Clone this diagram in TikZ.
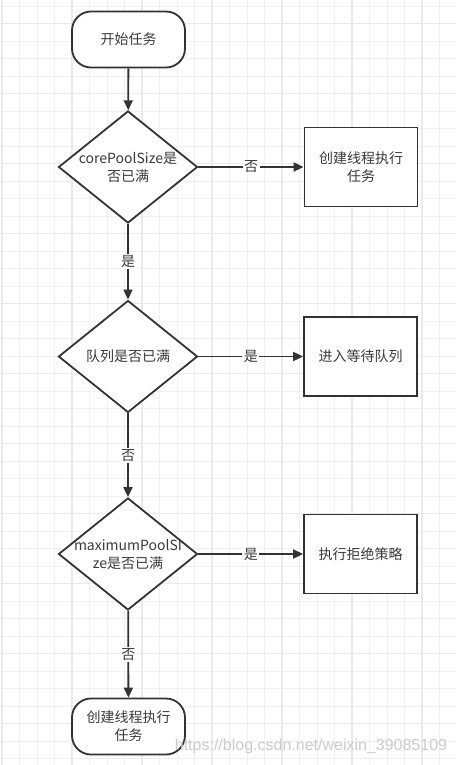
\documentclass[tikz,border=0pt]{standalone}
\usepackage{fontspec}
\setmainfont{Noto Sans CJK SC}
\newfontfamily\markfont{Liberation Sans}
\usetikzlibrary{shapes.geometric,arrows.meta}
\definecolor{linecol}{HTML}{333333}
\definecolor{textcol}{HTML}{3A3A3A}
\definecolor{gridminor}{HTML}{F0F0F0}
\definecolor{gridmajor}{HTML}{EAEAEA}
\tikzset{
    terminal/.style={draw=linecol, line width=1.8pt, rounded corners=19pt, fill=white,
        minimum width=113pt, minimum height=56pt, align=center, text=textcol},
    decision/.style={draw=linecol, line width=1.8pt, diamond, fill=white, inner sep=0pt,
        minimum width=139pt, minimum height=112pt},
    process/.style={draw=linecol, line width=1.8pt, fill=white,
        minimum width=113pt, minimum height=79pt, align=center, text=textcol},
    flow/.style={draw=linecol, line width=1.8pt, -{Triangle[length=10pt,width=9pt]}},
    answer/.style={fill=white, inner sep=1.5pt, text=textcol}
}

\begin{document}
\begin{tikzpicture}[x=1pt, y=-1pt, font=\fontsize{14}{18}\selectfont]
            \useasboundingbox (0,0) rectangle (456,765);
            \fill[white] (0,0) rectangle (456,765);
            % background grid
            \foreach \x in {0,...,26}
                \draw[gridminor, line width=0.9pt] ({2+17.5*\x},0) -- ({2+17.5*\x},765);
            \foreach \y in {0,...,43}
                \draw[gridminor, line width=0.9pt] (0,{6+17.5*\y}) -- (456,{6+17.5*\y});
            \foreach \x in {2,72,142,212,282,352,422}
                \draw[gridmajor, line width=1.1pt] (\x,0) -- (\x,765);
            \foreach \y in {23.5,93.5,163.5,233.5,303.5,373.5,443.5,513.5,583.5,653.5,723.5}
                \draw[gridmajor, line width=1.1pt] (0,\y) -- (456,\y);

            % flow chart
            \node[terminal] (start) at (128.5,39.5) {开始任务};
            \node[decision, label={[align=center, text=textcol]center:{corePoolSize是\\否已满}}] (core) at (128,167) {};
            \node[process] (create) at (361,167) {创建线程执行\\任务};
            \node[decision, label={[align=center, text=textcol]center:{队列是否已满}}] (queue) at (128,356.5) {};
            \node[process] (wait) at (360.5,356.5) {进入等待队列};
            \node[decision, label={[align=center, text=textcol]center:{maximumPoolSI\\ze是否已满}}] (maxpool) at (128,554) {};
            \node[process] (reject) at (360.5,554) {执行拒绝策略};
            \node[terminal] (finish) at (128.5,726.5) {创建线程执行\\任务};

            \draw[flow] (start) -- (core);
            \draw[flow] (core) -- node[answer] {否} (create);
            \draw[flow] (core) -- node[answer] {是} (queue);
            \draw[flow] (queue) -- node[answer] {是} (wait);
            \draw[flow] (queue) -- node[answer] {否} (maxpool);
            \draw[flow] (maxpool) -- node[answer] {是} (reject);
            \draw[flow] (maxpool) -- node[answer] {否} (finish);

            % watermark
            \node[text=black!20, font=\markfont\fontsize{16}{18}\selectfont] (mark) at (311,746) {https://blog.csdn.net/weixin\_39085109};
        \end{tikzpicture}
\end{document}
